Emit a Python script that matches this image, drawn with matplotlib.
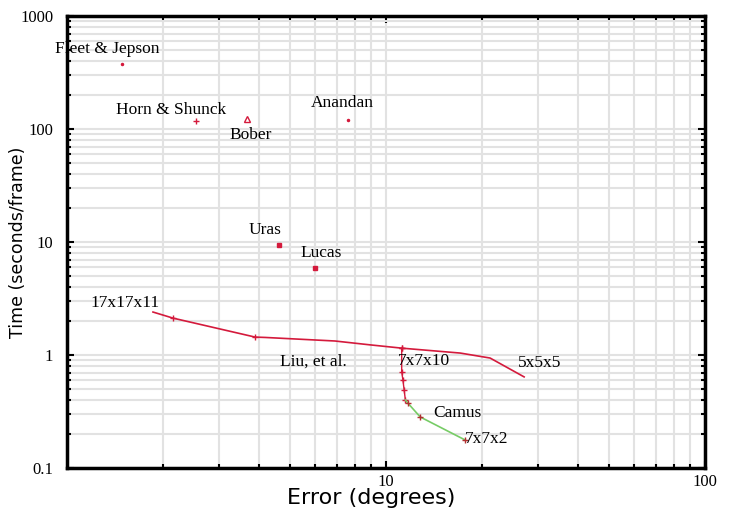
import matplotlib.pyplot as plt
from matplotlib.ticker import LogLocator, NullFormatter, FixedLocator, FixedFormatter

# single methods (error in degrees, time in seconds/frame)
methods = ['Fleet & Jepson', 'Horn & Shunck', 'Bober', 'Anandan', 'Uras', 'Lucas']
method_err = [1.49, 2.54, 3.67, 7.6, 4.62, 5.99]
method_time = [376, 118, 122, 120, 9.4, 5.9]
method_marker = ['.', '+', '^', '.', 's', 's']
# label offsets in pixels (dx, dy) from the point
method_off = [(-67, 15), (-80, 11), (-18, -16), (-37, 17), (-30, 15), (-15, 15)]

# Liu et al. curve
liu_err = [1.86, 2.15, 3.89, 4.18, 6.92, 8.9, 11.2, 17.1, 21.2, 27.1]
liu_time = [2.40, 2.12, 1.44, 1.43, 1.33, 1.23, 1.15, 1.04, 0.94, 0.64]

# Camus curve (red part then green part)
camus_red_err = [11.2, 11.2, 11.3, 11.4, 11.5]
camus_red_time = [1.15, 0.71, 0.60, 0.49, 0.40]
camus_green_err = [11.5, 11.7, 12.8, 17.7]
camus_green_time = [0.40, 0.376, 0.283, 0.177]

red = '#d41a3c'
green = '#77cc66'
serif = 'Liberation Serif'
lab_fs = 12.5

fig = plt.figure(figsize=(7.29, 5.21), dpi=100)
ax = fig.add_axes([67/729, 53/521, 638/729, 452/521])
ax.set_xscale('log')
ax.set_yscale('log')
ax.set_xlim(1, 100)
ax.set_ylim(0.1, 1000)

ax.grid(True, which='both', color='#e2e2e2', linewidth=1.5)
ax.set_axisbelow(True)

ax.plot(liu_err, liu_time, color=red, linewidth=1.2)
ax.plot([liu_err[1], liu_err[2], liu_err[6]], [liu_time[1], liu_time[2], liu_time[6]],
        linestyle='none', marker='+', color=red, markersize=5)
ax.plot(camus_red_err, camus_red_time, color=red, linewidth=1.0, marker='+', markersize=4)
ax.plot(camus_green_err, camus_green_time, color=green, linewidth=1.2)
ax.plot(camus_green_err[1:], camus_green_time[1:], linestyle='none', marker='+',
        color='#b03030', markersize=4)

for name, x, y, m, off in zip(methods, method_err, method_time, method_marker, method_off):
    if m == '^':
        ax.plot(x, y, marker=m, markersize=4, markerfacecolor='none', markeredgecolor=red)
    elif m == 's':
        ax.plot(x, y, marker=m, markersize=3.5, color=red)
    else:
        ax.plot(x, y, marker=m, markersize=5 if m == '+' else 3, color=red)
    ax.annotate(name, (x, y), xytext=off, textcoords='offset pixels',
                va='center', ha='left', fontsize=lab_fs, family=serif)

curve_labels = ['17x17x11', 'Liu, et al.', '7x7x10', '5x5x5']
curve_pts = [(liu_err[0], liu_time[0]), (liu_err[4], liu_time[4]),
             (liu_err[6], liu_time[6]), (liu_err[9], liu_time[9])]
curve_off = [(-63, 9), (-55, -21), (-4, -13), (-6, 14)]
for name, (x, y), off in zip(curve_labels, curve_pts, curve_off):
    ax.annotate(name, (x, y), xytext=off, textcoords='offset pixels',
                va='center', ha='left', fontsize=lab_fs, family=serif)
ax.annotate('Camus', (camus_green_err[2], camus_green_time[2]), xytext=(13, 4),
            textcoords='offset pixels', va='center', ha='left', fontsize=lab_fs, family=serif)
ax.annotate('7x7x2', (camus_green_err[3], camus_green_time[3]), xytext=(0, 1),
            textcoords='offset pixels', va='center', ha='left', fontsize=lab_fs, family=serif)

for s in ax.spines.values():
    s.set_linewidth(2.5)

ax.xaxis.set_major_locator(FixedLocator([10, 100]))
ax.xaxis.set_major_formatter(FixedFormatter(['10', '100']))
ax.xaxis.set_minor_locator(LogLocator(base=10, subs=range(2, 10)))
ax.xaxis.set_minor_formatter(NullFormatter())
ax.yaxis.set_major_locator(FixedLocator([0.1, 1, 10, 100, 1000]))
ax.yaxis.set_major_formatter(FixedFormatter(['0.1', '1', '10', '100', '1000']))
ax.yaxis.set_minor_locator(LogLocator(base=10, subs=range(2, 10)))
ax.yaxis.set_minor_formatter(NullFormatter())
ax.tick_params(which='both', direction='in', top=True, right=True, width=1.5)
ax.tick_params(which='major', length=5)
ax.tick_params(axis='y', which='major', pad=10)
ax.tick_params(axis='x', which='major', pad=4)
ax.tick_params(which='minor', length=3)
for lab in ax.get_xticklabels() + ax.get_yticklabels():
    lab.set_family(serif)
    lab.set_fontsize(12)

ax.set_xlabel('Error (degrees)', fontsize=16)
ax.xaxis.set_label_coords((371 - 67) / 638, -0.045)
ax.set_ylabel('Time (seconds/frame)', fontsize=12.5)
ax.yaxis.set_label_coords(-0.062, 0.5)

fig.savefig('out.png')
